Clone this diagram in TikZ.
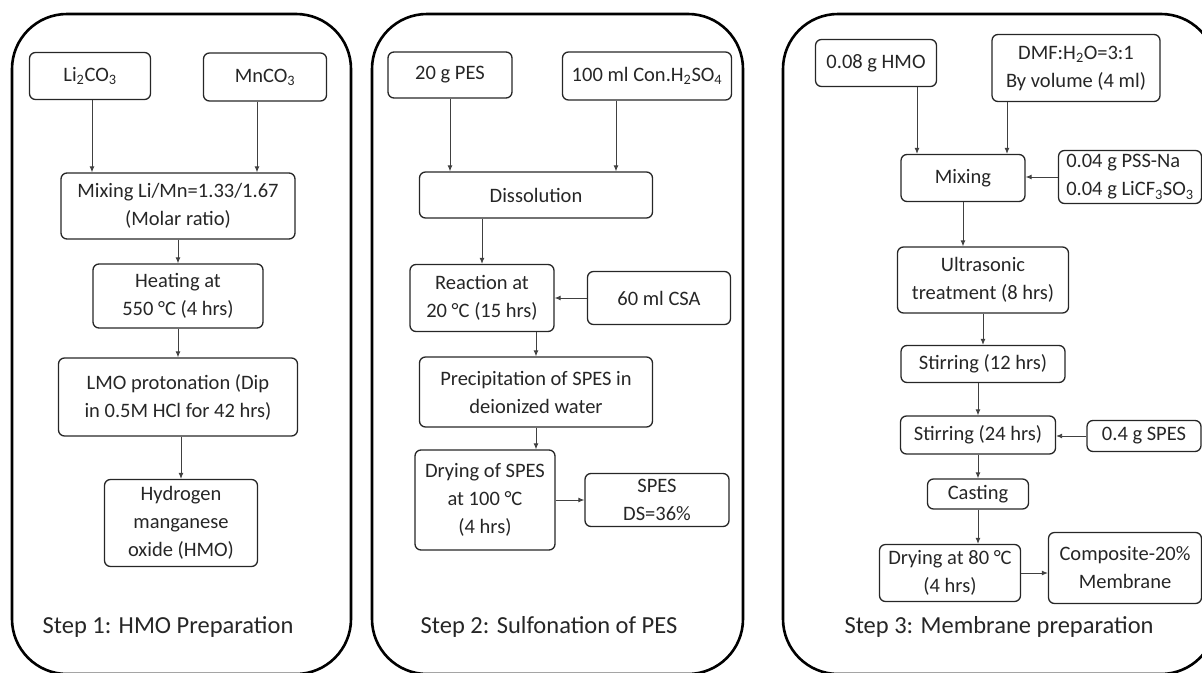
\documentclass[tikz,border=0pt]{standalone}
\usepackage{fontspec}
\setmainfont{Carlito}
\usetikzlibrary{arrows.meta}
\begin{document}
\begin{tikzpicture}[x=1pt,y=-1pt,
  panel/.style={draw=black,line width=2.6pt,rounded corners=55pt},
  bx/.style={draw=black!85,line width=1.3pt,rounded corners=6pt,align=center,inner sep=1pt,text=black!85,font=\fontsize{20.5}{28}\selectfont},
  lbl/.style={text=black!85,font=\fontsize{24.5}{28}\selectfont,inner sep=0pt},
  arr/.style={draw=black!75,line width=0.9pt,-{Latex[length=6pt,width=5pt]}}]
\useasboundingbox (0,0) rectangle (1202,672);
\clip (0,0) rectangle (1202,672);
% panels
\draw[panel] (12,14) rectangle (351,674);
\draw[panel] (372,14) rectangle (743,674);
\draw[panel] (783,14) rectangle (1216,674);
% ---- Step 1
\node[bx,minimum width=121pt,minimum height=47pt] (li) at (90,76) {Li\textsubscript{2}CO\textsubscript{3}};
\node[bx,minimum width=123pt,minimum height=48pt] (mn) at (265,77) {MnCO\textsubscript{3}};
\node[bx,minimum width=234pt,minimum height=66pt] (mix1) at (178,206) {Mixing Li/Mn=1.33/1.67\\(Molar ratio)};
\node[bx,minimum width=170pt,minimum height=64pt] (heat) at (178,296) {Heating at\\550 °C (4 hrs)};
\node[bx,minimum width=239pt,minimum height=78pt] (lmo) at (178,397) {LMO protonation (Dip\\in 0.5M HCl for 42 hrs)};
\node[bx,minimum width=153pt,minimum height=87pt] (hmo1) at (181,523) {Hydrogen\\manganese\\oxide (HMO)};
\node[lbl] (s1) at (168,627) {Step 1: HMO Preparation};
\draw[arr] ([xshift=2pt]li.south) -- ([xshift=2pt]li.south |- mix1.north);
\draw[arr] ([xshift=-8pt]mn.south) -- ([xshift=-8pt]mn.south |- mix1.north);
\draw[arr] (mix1.south) -- (mix1.south |- heat.north);
\draw[arr] (heat.south) -- (heat.south |- lmo.north);
\draw[arr] (hmo1.north |- lmo.south) -- (hmo1.north);
% ---- Step 2
\node[bx,minimum width=124pt,minimum height=46pt] (pes) at (450,75) {20 g PES};
\node[bx,minimum width=169pt,minimum height=48pt] (h2) at (647,76) {100 ml Con.H\textsubscript{2}SO\textsubscript{4}};
\node[bx,minimum width=233pt,minimum height=46pt] (dis) at (536,195) {Dissolution};
\node[bx,minimum width=144pt,minimum height=67pt] (rea) at (482,298) {Reaction at\\20 °C (15 hrs)};
\node[bx,minimum width=143pt,minimum height=53pt] (csa) at (659,298) {60 ml CSA};
\node[bx,minimum width=233pt,minimum height=70pt] (prec) at (536,392) {Precipitation of SPES in\\deionized water};
\node[bx,minimum width=140pt,minimum height=100pt] (dry) at (485,500) {Drying of SPES\\at 100 °C\\(4 hrs)};
\node[bx,minimum width=144pt,minimum height=53pt] (spes) at (657,500) {SPES\\DS=36\%};
\node[lbl] (s2) at (549,627) {Step 2: Sulfonation of PES};
\draw[arr] (pes.south) -- (pes.south |- dis.north);
\draw[arr] ([xshift=-31pt]h2.south) -- ([xshift=-31pt]h2.south |- dis.north);
\draw[arr] (rea.north |- dis.south) -- (rea.north);
\draw[arr] (csa.west) -- (csa.west -| rea.east);
\draw[arr] (prec.north |- rea.south) -- (prec.north);
\draw[arr] (prec.south) -- (prec.south |- dry.north);
\draw[arr] (dry.east) -- (dry.east -| spes.west);
% ---- Step 3
\node[bx,minimum width=121pt,minimum height=47pt] (hmo) at (876,63) {0.08 g HMO};
\node[bx,minimum width=168pt,minimum height=67pt] (dmf) at (1076,68) {DMF:H\textsubscript{2}O=3:1\\By volume (4 ml)};
\node[bx,minimum width=124pt,minimum height=47pt] (mix) at (963,178) {Mixing};
\node[bx,minimum width=143pt,minimum height=53pt,align=left] (pss) at (1130,177) {0.04 g PSS-Na\\0.04 g LiCF\textsubscript{3}SO\textsubscript{3}};
\node[bx,minimum width=171pt,minimum height=66pt] (ult) at (983,280) {Ultrasonic\\treatment (8 hrs)};
\node[bx,minimum width=164pt,minimum height=37pt] (st12) at (983,364) {Stirring (12 hrs)};
\node[bx,minimum width=155pt,minimum height=38pt] (st24) at (978,435) {Stirring (24 hrs)};
\node[bx,minimum width=114pt,minimum height=31pt] (sp4) at (1144,436) {0.4 g SPES};
\node[bx,minimum width=101pt,minimum height=30pt] (cast) at (978,494) {Casting};
\node[bx,minimum width=141pt,minimum height=57pt] (dr80) at (950,573) {Drying at 80 °C\\(4 hrs)};
\node[bx,minimum width=153pt,minimum height=71pt] (comp) at (1125,568) {Composite-20\%\\Membrane};
\node[lbl] (s3) at (999,627) {Step 3: Membrane preparation};
\draw[arr] ([xshift=41pt]hmo.south) -- ([xshift=41pt]hmo.south |- mix.north);
\draw[arr] ([xshift=-69pt]dmf.south) -- ([xshift=-69pt]dmf.south |- mix.north);
\draw[arr] (pss.west) -- (pss.west -| mix.east);
\draw[arr] (mix.south) -- (mix.south |- ult.north);
\draw[arr] (ult.south) -- (ult.south |- st12.north);
\draw[arr] (st24.north |- st12.south) -- (st24.north);
\draw[arr] (sp4.west) -- (sp4.west -| st24.east);
\draw[arr] (cast.north |- st24.south) -- (cast.north);
\draw[arr] (cast.south) -- (cast.south |- dr80.north);
\draw[arr] (dr80.east) -- (dr80.east -| comp.west);
\end{tikzpicture}
\end{document}
